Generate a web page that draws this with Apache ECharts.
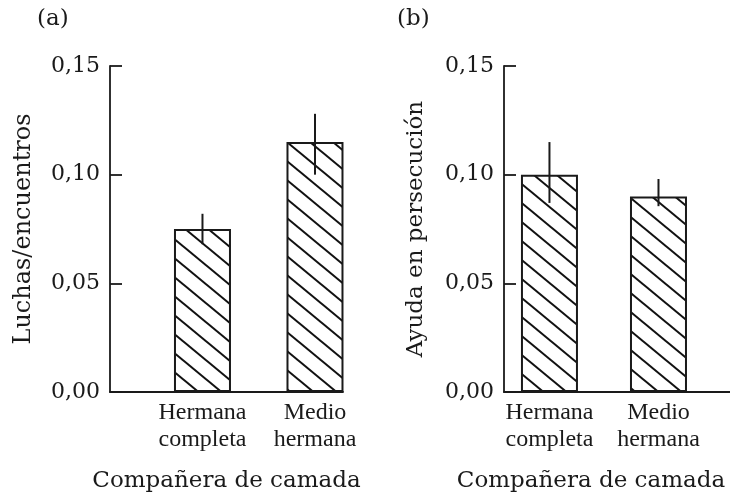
<!DOCTYPE html>
<html>
<head>
<meta charset="utf-8">
<script src="https://cdn.jsdelivr.net/npm/echarts@6/dist/echarts.min.js"></script>
<style>
html,body{margin:0;padding:0;background:#fff;}
#chart{width:730px;height:493px;}
</style>
</head>
<body>
<div id="chart"></div>
<script>
// ---- data ----
const categories = ['Hermana\ncompleta', 'Medio\nhermana'];
const fightsMean = [0.075, 0.115];
const fightsLow  = [0.068, 0.100];
const fightsHigh = [0.082, 0.128];
const helpMean = [0.100, 0.090];
const helpLow  = [0.087, 0.0855];
const helpHigh = [0.115, 0.098];
const yTicks = [0, 0.05, 0.10, 0.15];
const panelLabels = ['(a)', '(b)'];
const yTitles = ['Luchas/encuentros', 'Ayuda en persecución'];
const xTitle = 'Compañera de camada';

// ---- hatch pattern ----
const tile = document.createElement('canvas');
tile.width = 23; tile.height = 19;
const tctx = tile.getContext('2d');
tctx.fillStyle = '#fff';
tctx.fillRect(0, 0, 23, 19);
tctx.strokeStyle = '#111';
tctx.lineWidth = 2;
for (let k = -1; k <= 1; k++) {
  tctx.beginPath();
  tctx.moveTo(-1, k * 19 - 19 / 23);
  tctx.lineTo(24, 19 + k * 19 + 19 / 23);
  tctx.stroke();
}
const hatch = { image: tile, repeat: 'repeat' };

const serif = 'DejaVu Serif';
const catFont = 'Liberation Serif';
const ink = '#1a1a1a';

const pos = categories.map((c, i) => i + 1);
function barData(vals) { return vals.map((v, i) => [pos[i], v]); }
function errData(lo, hi) { return lo.map((v, i) => [pos[i], v, hi[i]]); }
function fmt(v) { return v.toFixed(2).replace('.', ','); }

function errSeries(idx, lo, hi) {
  return {
    type: 'custom', xAxisIndex: idx, yAxisIndex: idx, z: 5,
    data: errData(lo, hi),
    renderItem: function (params, api) {
      const x = api.value(0);
      const p1 = api.coord([x, api.value(1)]);
      const p2 = api.coord([x, api.value(2)]);
      return { type: 'line', shape: { x1: p1[0], y1: p1[1], x2: p2[0], y2: p2[1] },
               style: { stroke: ink, lineWidth: 2 } };
    }
  };
}

function xAxisDef(idx, min, max, padRight) {
  return {
    type: 'value', gridIndex: idx, min: min, max: max,
    splitLine: { show: false },
    axisLine: { show: true, onZero: false, lineStyle: { color: ink, width: 1.8 } },
    axisTick: { show: false },
    axisLabel: {
      customValues: pos,
      formatter: function (v) { return categories[Math.round(v) - 1] || ''; },
      fontFamily: catFont, fontSize: 24, color: ink, lineHeight: 27, margin: 7
    },
    name: xTitle, nameLocation: 'middle', nameGap: 78,
    nameTextStyle: { fontFamily: serif, fontSize: 23, color: ink, padding: [0, padRight, 0, 0] }
  };
}

function yAxisDef(idx, title, gap, size) {
  return {
    type: 'value', gridIndex: idx, min: 0, max: 0.15, interval: 0.05,
    splitLine: { show: false },
    axisLine: { show: true, lineStyle: { color: ink, width: 1.8 } },
    axisTick: { show: true, inside: true, length: 12, lineStyle: { color: ink, width: 1.8 } },
    axisLabel: { formatter: fmt, fontFamily: serif, fontSize: 22, color: ink, margin: 10 },
    name: title, nameLocation: 'middle', nameRotate: 90, nameGap: gap,
    nameTextStyle: { fontFamily: serif, fontSize: size, color: ink }
  };
}

const chart = echarts.init(document.getElementById('chart'), null, { renderer: 'canvas' });
chart.setOption({
  backgroundColor: '#fff',
  animation: false,
  grid: [
    { left: 110, top: 66, width: 233, height: 326, containLabel: false, outerBoundsMode: 'none' },
    { left: 504, top: 66, width: 226, height: 326, containLabel: false, outerBoundsMode: 'none' }
  ],
  xAxis: [ xAxisDef(0, 0.178, 2.249, 0), xAxisDef(1, 0.583, 2.656, 52) ],
  yAxis: [ yAxisDef(0, yTitles[0], 74, 24), yAxisDef(1, yTitles[1], 76, 23) ],
  graphic: [
    { type: 'text', left: 37, top: 8, style: { text: panelLabels[0], font: '23px "DejaVu Serif"', fill: ink } },
    { type: 'text', left: 397, top: 8, style: { text: panelLabels[1], font: '23px "DejaVu Serif"', fill: ink } }
  ],
  series: [
    { type: 'bar', xAxisIndex: 0, yAxisIndex: 0, barWidth: 57, data: barData(fightsMean),
      itemStyle: { color: hatch, borderColor: ink, borderWidth: 2 } },
    errSeries(0, fightsLow, fightsHigh),
    { type: 'bar', xAxisIndex: 1, yAxisIndex: 1, barWidth: 57, data: barData(helpMean),
      itemStyle: { color: hatch, borderColor: ink, borderWidth: 2 } },
    errSeries(1, helpLow, helpHigh)
  ]
});
</script>
</body>
</html>
